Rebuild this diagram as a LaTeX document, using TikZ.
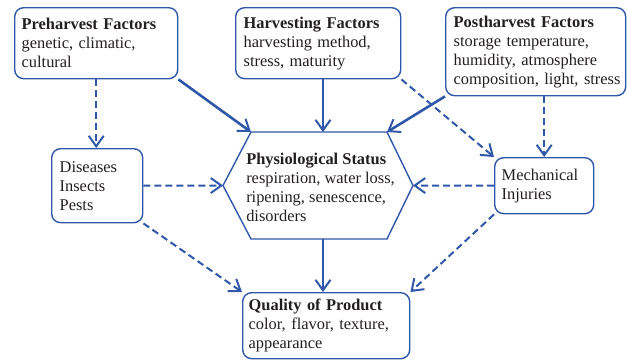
\documentclass[tikz,border=0pt]{standalone}
\usepackage{fontspec}
\setmainfont{Liberation Serif}
\usetikzlibrary{arrows.meta,backgrounds}
\definecolor{flowblue}{HTML}{2F58AA}
\definecolor{inktext}{HTML}{231F20}
\tikzset{
  box/.style={draw=flowblue, line width=1.4pt, rounded corners=9pt, fill=white,
    anchor=north west, align=left, inner xsep=7pt, inner ysep=0pt, text=inktext,
    font=\fontsize{16.4}{19}\selectfont},
  hexline/.style={draw=flowblue, line width=1.4pt, line join=miter},
  hextext/.style={align=left, inner sep=0pt, text=inktext, font=\fontsize{16.4}{19}\selectfont},
  tip/.style={-{Straight Barb[length=10.5pt, width=15pt, line width=2pt]}},
  solidarrow/.style={tip, draw=flowblue, line width=2.6pt},
  dasharrow/.style={tip, draw=flowblue, line width=2pt, dash pattern=on 7pt off 4pt}
}
\begin{document}
\begin{tikzpicture}[x=1pt, y=-1pt]
\useasboundingbox (0,0) rectangle (627,360);

% factor boxes along the top
\node[box, text width=149pt, minimum height=71pt] (pre) at (14,7)
  {\textbf{Preharvest Factors}\\genetic, climatic,\\cultural};
\node[box, inner xsep=8pt, text width=149pt, minimum height=71pt] (harv) at (235,7)
  {\textbf{Harvesting Factors}\\harvesting method,\\stress, maturity};
\node[box, inner xsep=8pt, text width=164pt, minimum height=88pt] (post) at (445,7)
  {\textbf{Postharvest Factors}\\storage temperature,\\humidity, atmosphere\\\mbox{composition, light, stress}};

% side boxes
\node[box, inner xsep=8pt, text width=75pt, minimum height=74pt] (dis) at (51,148)
  {Diseases\\Insects\\Pests};
\node[box, text width=85pt, minimum height=56pt] (mech) at (494,157)
  {Mechanical\\Injuries};

% result box
\node[box, inner xsep=6pt, text width=155pt, minimum height=66pt] (qual) at (242,292)
  {\textbf{Quality of Product}\\color, flavor, texture,\\appearance};

% central hexagon
\coordinate (hexTL) at (251,132);
\coordinate (hexTR) at (387,132);
\coordinate (hexR) at (413,185.5);
\coordinate (hexBR) at (387,239);
\coordinate (hexBL) at (251,239);
\coordinate (hexL) at (223,185.5);
\coordinate (hexTop) at (323,132);
\coordinate (hexBot) at (323,239);
\draw[hexline] (hexTL) -- (hexTR) -- (hexR) -- (hexBR) -- (hexBL) -- (hexL) -- cycle;
\node[hextext] (phys) at (320.5,187)
  {\textbf{Physiological Status}\\\mbox{respiration, water loss,}\\ripening, senescence,\\disorders};

% connectors
\begin{scope}[on background layer]
  \draw[solidarrow] (pre.south east) -- (hexTL);
  \draw[solidarrow] (harv.south -| hexTop) -- (hexTop);
  \draw[solidarrow] (post.south west) -- (hexTR);
  \draw[solidarrow] (hexBot) -- (qual.north -| hexBot);
  \draw[dasharrow] (pre.south) -- (pre.south |- dis.north);
  \draw[dasharrow] (mech.north |- post.south) -- (mech.north);
  \draw[dasharrow] (harv.south east) -- (mech.north west);
  \draw[dasharrow] (dis.east) -- (hexL);
  \draw[dasharrow] (mech.west) -- (hexR);
  \draw[dasharrow] (dis.south east) -- (qual.north west);
  \draw[dasharrow] (mech.south west) -- (qual.north east);
\end{scope}
\end{tikzpicture}
\end{document}
